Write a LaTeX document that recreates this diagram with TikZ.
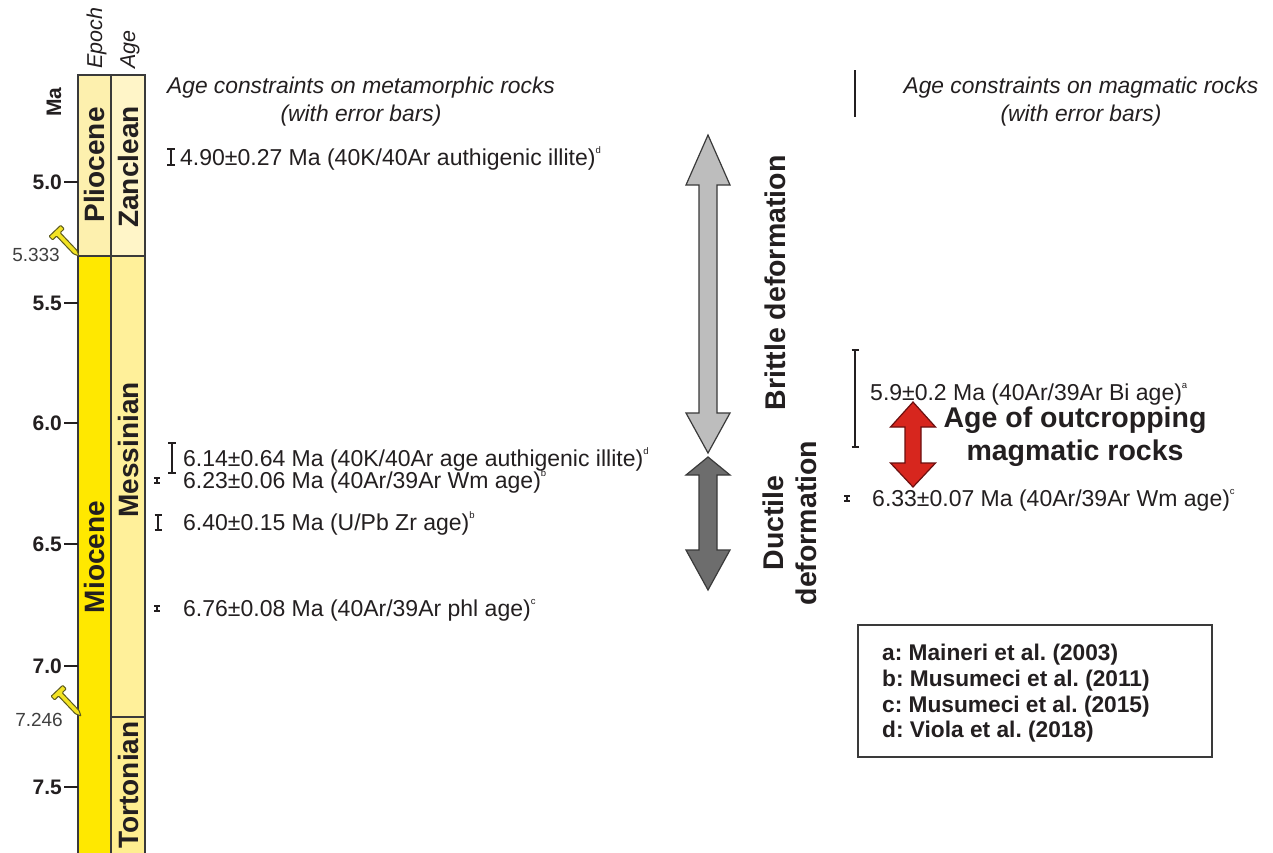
\documentclass[tikz,border=0pt]{standalone}
\usepackage{fontspec}
\setmainfont{Liberation Sans}
\frenchspacing
\definecolor{ink}{HTML}{231F20}
\definecolor{colline}{HTML}{3A3A3A}
\definecolor{plio}{HTML}{FDF0AE}
\definecolor{zanc}{HTML}{FFF5C8}
\definecolor{mio}{HTML}{FFE800}
\definecolor{mess}{HTML}{FFF09A}
\definecolor{tort}{HTML}{FFEE90}
\definecolor{pinfill}{HTML}{F3E323}
\definecolor{pinline}{HTML}{5C5A1E}
\definecolor{lightarr}{HTML}{BDBDBD}
\definecolor{darkarr}{HTML}{6D6D6D}
\definecolor{redarr}{HTML}{D7261E}
\definecolor{redline}{HTML}{6B1010}
\newcommand{\refsup}[1]{\raisebox{0.5em}{\fontsize{9.5}{10}\selectfont #1}}
\tikzset{
  txt/.style={inner sep=0pt, text=ink, font=\fontsize{23}{27}\selectfont\frenchspacing},
  ititle/.style={inner sep=0pt, text=ink, anchor=base, font=\fontsize{22.8}{27}\selectfont\itshape\frenchspacing},
  bigb/.style={inner sep=0pt, text=ink, font=\fontsize{28.5}{33}\selectfont\bfseries},
  colb/.style={inner sep=0pt, text=ink, rotate=90, font=\fontsize{28}{30}\selectfont\bfseries},
  tickl/.style={inner sep=0pt, anchor=east, text=ink, font=\fontsize{21}{24}\selectfont\bfseries},
  pinlab/.style={inner sep=0pt, anchor=east, text=black!75, font=\fontsize{19}{22}\selectfont},
  headlab/.style={inner sep=0pt, anchor=west, rotate=90, text=ink, font=\fontsize{21.5}{24}\selectfont\itshape},
  ebar/.style={draw=ink, line width=1.7pt},
  tickline/.style={draw=ink, line width=1.3pt},
  colframe/.style={draw=colline, line width=1.4pt},
  arrowshape/.style={draw=colline, line width=1.2pt, line join=miter},
  geopin/.pic={
    \draw[draw=pinline, fill=pinfill, line width=1pt, rounded corners=0.8pt]
      (-28.9,-18.7) -- (-25.4,-15.1) -- (-21.4,-18.9) -- (-4.6,-1.2) -- (1,1)
      -- (-1,-4.6) -- (-17.8,-22.3) -- (-13.8,-26.1) -- (-17.3,-29.7) -- cycle;
  }
}
\begin{document}
\begin{tikzpicture}[x=1pt,y=-1pt]
\useasboundingbox (0,0) rectangle (1273,852);
\fill[white] (0,0) rectangle (1273,852);

% ---- stratigraphic columns
\fill[plio] (78,75) rectangle (111,256);
\fill[zanc] (111,75) rectangle (145,256);
\fill[mio] (78,256) rectangle (111,860);
\fill[mess] (111,256) rectangle (145,717);
\fill[tort] (111,717) rectangle (145,860);
\draw[colframe] (78,860) -- (78,75) -- (145,75) -- (145,860);
\draw[colframe] (111,75) -- (111,860);
\draw[colframe] (78,256) -- (145,256);
\draw[colframe] (111,717) -- (145,717);

\node[colb] (plioc) at (94.5,165) {Pliocene};
\node[colb] (zancl) at (128,167) {Zanclean};
\node[colb] (mioc) at (94.5,557) {Miocene};
\node[colb] (messi) at (128,450) {Messinian};
\node[colb] (torto) at (128,785) {Tortonian};

\node[headlab] (epoch) at (96.5,69) {Epoch};
\node[headlab] (agehd) at (130,69) {Age};
\node[inner sep=0pt, rotate=90, text=ink, font=\fontsize{21}{24}\selectfont\bfseries] (ma) at (54,102) {Ma};

% ---- ticks
\foreach \lab/\yy in {5.0/182,5.5/303,6.0/423,6.5/544,7.0/666,7.5/787}{
  \draw[tickline] (64,\yy) -- (78,\yy);
  \node[tickl] (tick\lab) at (62,\yy) {\lab};
}

% ---- boundary pins
\pic at (78,255) {geopin};
\pic at (80,715) {geopin};
\node[pinlab] (p5333) at (60,255) {5.333};
\node[pinlab] (p7246) at (63,720) {7.246};

% ---- titles
\node[ititle] (tl1) at (361,93) {Age constraints on metamorphic rocks};
\node[ititle] (tl2) at (361,121) {(with error bars)};
\node[ititle] (tr1) at (1081,93) {Age constraints on magmatic rocks};
\node[ititle] (tr2) at (1081,121) {(with error bars)};
\draw[ink, line width=2pt] (855,70) -- (855,117);

% ---- metamorphic ages
\draw[ebar] (171,149) -- (171,165) (167,149) -- (175,149) (167,165) -- (175,165);
\node[txt, anchor=base west] (m490) at (180,165) {4.90±0.27 Ma (40K/40Ar authigenic illite)\refsup{d}};

\draw[ebar] (172,443) -- (172,473) (168,443) -- (176,443) (168,473) -- (176,473);
\node[txt, anchor=base west] (m614) at (183,466) {6.14±0.64 Ma (40K/40Ar age authigenic illite)\refsup{d}};

\draw[ebar] (157,478) -- (157,483) (154,478) -- (160,478) (154,483) -- (160,483);
\node[txt, anchor=base west] (m623) at (183,488) {6.23±0.06 Ma (40Ar/39Ar Wm age)\refsup{b}};

\draw[ebar] (158,515) -- (158,530) (154.5,515) -- (161.5,515) (154.5,530) -- (161.5,530);
\node[txt, anchor=base west] (m640) at (183,530) {6.40±0.15 Ma (U/Pb Zr age)\refsup{b}};

\draw[ebar] (157,606) -- (157,611) (154,606) -- (160,606) (154,611) -- (160,611);
\node[txt, anchor=base west] (m676) at (183,616) {6.76±0.08 Ma (40Ar/39Ar phl age)\refsup{c}};

% ---- deformation arrows
\draw[arrowshape, fill=lightarr] (708,135) -- (730,185) -- (717,185) -- (717,413) -- (730,413)
  -- (708,453) -- (686,413) -- (699,413) -- (699,185) -- (686,185) -- cycle;
\draw[arrowshape, fill=darkarr] (708,457) -- (730,475) -- (717,475) -- (717,550) -- (730,550)
  -- (708,590) -- (686,550) -- (699,550) -- (699,475) -- (686,475) -- cycle;
\node[bigb, rotate=90] (brittle) at (775,283) {Brittle deformation};
\node[bigb, rotate=90, align=center] (ductile) at (790,523) {Ductile\\deformation};

% ---- magmatic ages
\draw[ebar] (855,350) -- (855,447) (851.5,350) -- (858.5,350) (851.5,447) -- (858.5,447);
\node[txt, anchor=base west] (g59) at (870,400) {5.9±0.2 Ma (40Ar/39Ar Bi age)\refsup{a}};
\draw[ebar] (847,496) -- (847,501) (844,496) -- (850,496) (844,501) -- (850,501);
\node[txt, anchor=base west] (g633) at (872,506) {6.33±0.07 Ma (40Ar/39Ar Wm age)\refsup{c}};

\draw[draw=redline, line width=1.2pt, fill=redarr] (913,402) -- (935.5,427) -- (921,427) -- (921,463)
  -- (935.5,463) -- (913,487) -- (890.5,463) -- (905,463) -- (905,427) -- (890.5,427) -- cycle;
\node[bigb, align=center] (outcrop) at (1075,437) {Age of outcropping\\magmatic rocks};

% ---- legend
\node[draw=colline, line width=1.8pt, minimum width=354pt, minimum height=132pt, inner sep=0pt, anchor=north west] (legend) at (857,624) {};
\node[inner sep=0pt, anchor=north west, align=left, text=ink, font=\fontsize{22.7}{25.7}\selectfont\bfseries\frenchspacing] (legtxt) at (882,644)
  {a: Maineri et al. (2003)\\b: Musumeci et al. (2011)\\c: Musumeci et al. (2015)\\d: Viola et al. (2018)};
\end{tikzpicture}
\end{document}
